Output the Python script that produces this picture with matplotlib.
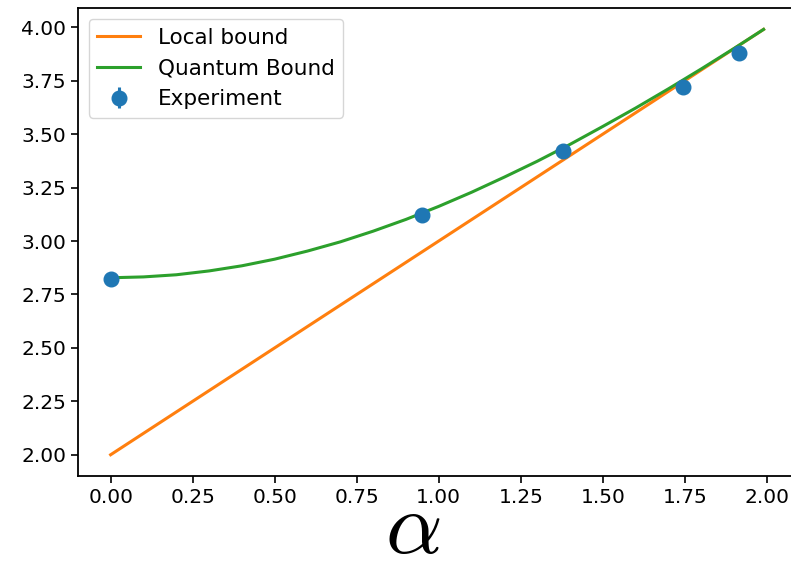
import numpy as np
import matplotlib
matplotlib.use('Agg')
import matplotlib.pyplot as plt

plt.rcParams['mathtext.fontset'] = 'cm'

# bounds
alpha_local = [0.0, 1.99]
local_bound = [2.0, 3.99]

alpha_q = [0.0, 0.1, 0.2, 0.3, 0.4, 0.5, 0.6, 0.7, 0.8, 0.9, 1.0,
           1.1, 1.2, 1.3, 1.4, 1.5, 1.6, 1.7, 1.8, 1.9, 1.99]
quantum_bound = [2.828, 2.832, 2.842, 2.860, 2.884, 2.915, 2.953, 2.996, 3.046, 3.101, 3.162,
                 3.228, 3.299, 3.373, 3.452, 3.536, 3.622, 3.712, 3.805, 3.901, 3.990]

# experiment
alpha_exp = [0.0, 0.95, 1.38, 1.745, 1.915]
s_exp = [2.82, 3.12, 3.42, 3.72, 3.88]
s_err = [0.02, 0.02, 0.02, 0.02, 0.02]

fig = plt.figure(figsize=(7.91, 5.61), dpi=100)
ax = fig.add_axes([0.0986, 0.1515, 0.908, 0.834])

ax.plot(alpha_local, local_bound, color='C1', lw=2.2, label='Local bound')
ax.plot(alpha_q, quantum_bound, color='C2', lw=2.2, label='Quantum Bound')
ax.errorbar(alpha_exp, s_exp, yerr=s_err, fmt='o', color='C0', ms=10.5, elinewidth=2.2,
            label='Experiment')

ax.set_xticks(np.arange(0, 2.01, 0.25))
ax.set_yticks(np.arange(2.0, 4.01, 0.25))
ax.tick_params(labelsize=14.5, length=5, width=1.2)
for s in ax.spines.values():
    s.set_linewidth(1.3)

ax.set_xlabel(r'$\alpha$', fontsize=64)
ax.xaxis.set_label_coords(0.466, -0.02)
ax.legend(loc='upper left', fontsize=15.5)

fig.savefig('out.png')
